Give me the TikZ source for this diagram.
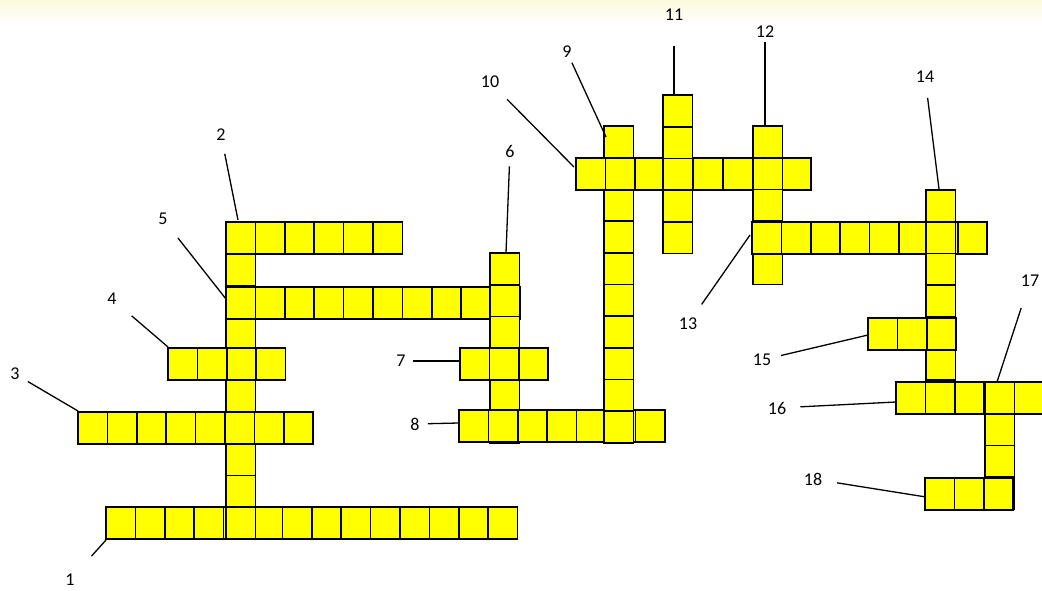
\documentclass[tikz,border=0pt]{standalone}
\usepackage{fontspec}
\setmainfont{Carlito}
\usepackage{tikz}
\usetikzlibrary{calc}
\definecolor{cellfill}{HTML}{FFFF00}
\definecolor{bandtop}{HTML}{FCF9DC}

% a word of cells: left x, top y, number of cells
\newcommand{\rowcells}[3]{%
  \foreach \k in {1,...,#3}
    \draw[cell] ({#1+(\k-1)*29.4},#2) rectangle ++(29.4,31.7);}
\newcommand{\colcells}[3]{%
  \foreach \k in {1,...,#3}
    \draw[cell] (#1,{#2+(\k-1)*31.7}) rectangle ++(29.4,31.7);}

\begin{document}
\begin{tikzpicture}[x=1pt, y=-1pt,
    cell/.style={fill=cellfill, draw=black, line width=1.7pt},
    num/.style={font=\fontsize{18}{20}\selectfont, inner sep=2pt},
    lead/.style={draw=black, line width=1.3pt}]

    \useasboundingbox (0,0) rectangle (1042,591);
    \clip (0,0) rectangle (1042,591);

    % faint band at the top
    \shade[top color=bandtop, bottom color=white] (0,0) rectangle (1042,26);

    % left part
    \rowcells{106}{507}{14}
    \colcells{226}{222}{10}
    \rowcells{226}{222}{6}
    \rowcells{78}{412}{8}
    \rowcells{168}{348}{4}
    \rowcells{226}{287}{10}
    \colcells{490}{253}{6}
    \rowcells{460}{348}{3}
    \rowcells{459}{410}{7}

    % middle part
    \colcells{604}{126}{10}
    \rowcells{576}{158}{8}
    \colcells{663}{95}{5}
    \colcells{753}{126}{5}

    % right part
    \rowcells{752}{222}{8}
    \colcells{926}{190}{7}
    \rowcells{868}{318}{3}
    \rowcells{896}{382}{5}
    \colcells{985}{382}{4}
    \rowcells{925}{478}{3}

    % numbers
    \node[num] (n1) at (70,580) {1};
    \node[num] (n2) at (221,135) {2};
    \node[num] (n3) at (15,374) {3};
    \node[num] (n4) at (112,299) {4};
    \node[num] (n5) at (163,219) {5};
    \node[num] (n6) at (510,151) {6};
    \node[num] (n7) at (401,361) {7};
    \node[num] (n8) at (415,424) {8};
    \node[num] (n9) at (567,52) {9};
    \node[num] (n10) at (490,82) {10};
    \node[num] (n11) at (674,15) {11};
    \node[num] (n12) at (765,32) {12};
    \node[num] (n13) at (688,324) {13};
    \node[num] (n14) at (925,77) {14};
    \node[num] (n15) at (762,360) {15};
    \node[num] (n16) at (777,408) {16};
    \node[num] (n17) at (1030,281) {17};
    \node[num] (n18) at (813,479) {18};

    % ends of the leaders
    \coordinate (t1) at (106,540);
    \coordinate (t2) at (238,220);
    \coordinate (t3) at (78,411);
    \coordinate (t4) at (168,347);
    \coordinate (t5) at (226,299);
    \coordinate (t6) at (506,253);
    \coordinate (t7) at (460,361);
    \coordinate (t8) at (459,423);
    \coordinate (t9) at (606,137);
    \coordinate (t10) at (574,167);
    \coordinate (t11) at (674,94);
    \coordinate (t12) at (765,126);
    \coordinate (t13) at (750,235);
    \coordinate (t14) at (939,189);
    \coordinate (t15) at (868,335);
    \coordinate (t16) at (896,402);
    \coordinate (t17) at (997,382);
    \coordinate (t18) at (926,497);

    % leaders
    \draw[lead, shorten <=22pt] (n1) -- (t1);
    \draw[lead, shorten <=11pt] (n2) -- (t2);
    \draw[lead, shorten <=7pt] (n3) -- (t3);
    \draw[lead, shorten <=17pt] (n4) -- (t4);
    \draw[lead, shorten <=14pt] (n5) -- (t5);
    \draw[lead, shorten <=7pt] (n6) -- (t6);
    \draw[lead, shorten <=5pt] (n7) -- (t7);
    \draw[lead, shorten <=6pt] (n8) -- (t8);
    \draw[lead, shorten <=3pt] (n9) -- (t9);
    \draw[lead, shorten <=13pt] (n10) -- (t10);
    \draw[lead, shorten <=23pt] (n11) -- (t11);
    \draw[lead, shorten <=2pt] (n12) -- (t12);
    \draw[lead, shorten <=14pt] (n13) -- (t13);
    \draw[lead, shorten <=13pt] (n14) -- (t14);
    \draw[lead, shorten <=8pt] (n15) -- (t15);
    \draw[lead, shorten <=12pt] (n16) -- (t16);
    \draw[lead, shorten <=20pt] (n17) -- (t17);
    \draw[lead, shorten <=13pt] (n18) -- (t18);

\end{tikzpicture}
\end{document}
